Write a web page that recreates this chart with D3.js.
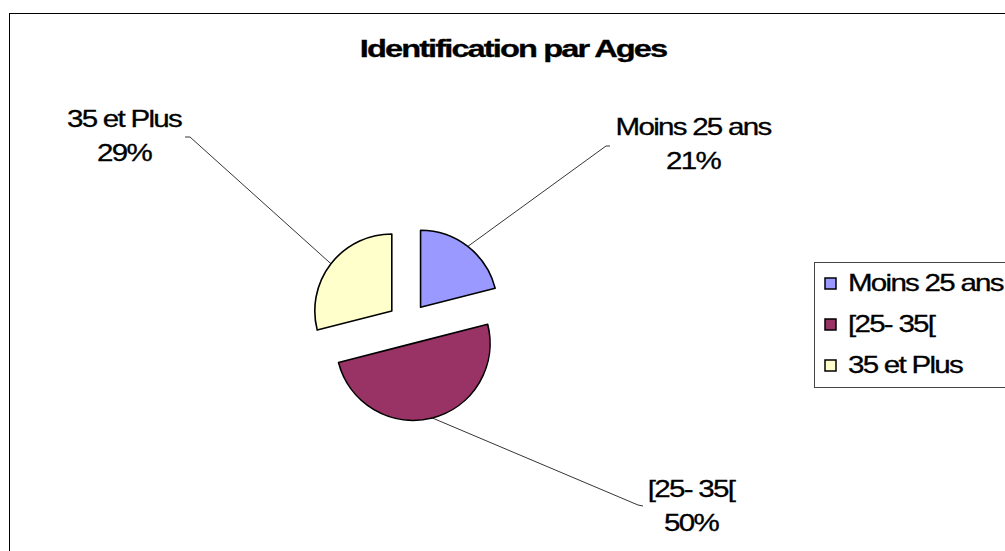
<!DOCTYPE html>
<html>
<head>
<meta charset="utf-8">
<script src="https://cdn.jsdelivr.net/npm/d3@7"></script>
<style>
  html, body { margin: 0; padding: 0; background: #fff; }
  svg { display: block; }
  text { font-family: "Liberation Sans", Arial, sans-serif; fill: #000; }
</style>
</head>
<body>
<svg id="chart" width="1005" height="551"></svg>
<script>
/*** Data ***/
const title      = "Identification par Ages"
const categories = ["Moins 25 ans", "[25- 35[", "35 et Plus"]
const values     = [21, 50, 29]
const colors     = ["#9999FF", "#993366", "#FFFFCC"]

/*** Layout ***/
const W = 1005, H = 551
const CX = 408, CY = 323.5, RAD = 77, EXPL = 20.5
const FS = 24, LS = -1.4, SX = 1.23   // text is stretched wide in the original
// leader line elbow + end, label anchor (centre x, first baseline)
const callouts = [
  {elbow: [606, 146], end: [610, 146], lx: 693, ly: 135},
  {elbow: [638, 505], end: [643, 506], lx: 691, ly: 497},
  {elbow: [190, 137], end: [185, 137], lx: 124, ly: 127}
]

const svg = d3.select("#chart")

// outer frame, runs off the right and bottom of the picture
svg.append("rect")
   .attr("x", 9.5).attr("y", 13.5)
   .attr("width", W + 20).attr("height", H + 20)
   .attr("fill", "#fff").attr("stroke", "#000").attr("stroke-width", 1)

function stretched(g, x, y, str, size, weight, sx, ls, anchor) {
  return g.append("text")
          .attr("transform", "translate(" + x + "," + y + ") scale(" + sx + ",1)")
          .attr("text-anchor", anchor || "middle")
          .style("font-size", size + "px")
          .style("font-weight", weight)
          .style("letter-spacing", ls + "px")
          .style("stroke", "#000").style("stroke-width", 0.3)
          .text(str)
}

stretched(svg, 513, 57, title, 24, "bold", 1.36, -1.4)

/*** Pie ***/
const pie = d3.pie().sort(null).value(d => d)
const arcs = pie(values)
const arc = d3.arc().innerRadius(0).outerRadius(RAD)
const pct = d3.format(".0%")
const total = d3.sum(values)

const slices = svg.append("g").attr("transform", "translate(" + CX + "," + CY + ")")

arcs.forEach((a, i) => {
  const mid = (a.startAngle + a.endAngle) / 2
  const dx = Math.sin(mid) * EXPL, dy = -Math.cos(mid) * EXPL
  slices.append("path")
        .attr("d", arc(a))
        .attr("transform", "translate(" + dx + "," + dy + ")")
        .attr("fill", colors[i])
        .attr("stroke", "#000")
        .attr("stroke-width", 1.6)
        .attr("stroke-linejoin", "round")

  // leader line from the middle of the rim
  const ox = CX + dx + Math.sin(mid) * RAD
  const oy = CY + dy - Math.cos(mid) * RAD
  const c = callouts[i]
  svg.append("path")
     .attr("d", d3.line()([[ox, oy], c.elbow, c.end]))
     .attr("fill", "none")
     .attr("stroke", "#000")
     .attr("stroke-width", 0.8)

  stretched(svg, c.lx, c.ly, categories[i], FS, "normal", SX, LS)
  stretched(svg, c.lx, c.ly + 33.5, pct(values[i] / total), FS, "normal", SX, LS)
})

/*** Legend ***/
const legend = svg.append("g")
legend.append("rect")
      .attr("x", 814.5).attr("y", 262.5)
      .attr("width", 220).attr("height", 125)
      .attr("fill", "#fff").attr("stroke", "#444").attr("stroke-width", 1)

const ly = d3.scalePoint().domain(categories).range([291, 373])
categories.forEach((c, i) => {
  const y = ly(c)
  legend.append("rect")
        .attr("x", 825).attr("y", y - 13)
        .attr("width", 11).attr("height", 11)
        .attr("fill", colors[i]).attr("stroke", "#000").attr("stroke-width", 1.5)
  stretched(legend, 848, y, c, FS, "normal", SX, LS, "start")
})
</script>
</body>
</html>
